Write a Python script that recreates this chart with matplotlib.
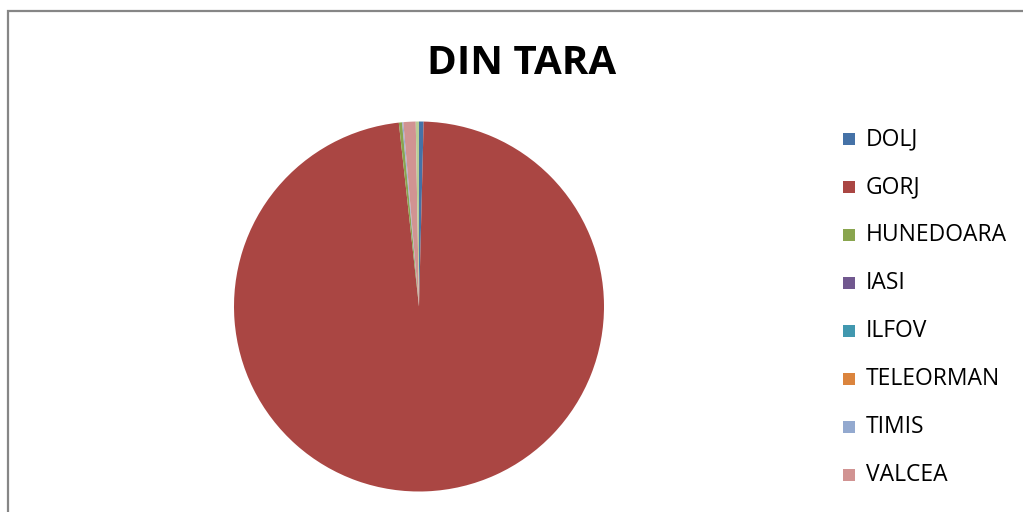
import matplotlib
matplotlib.use("Agg")
import matplotlib.pyplot as plt
from matplotlib.patches import Rectangle

categories = ["DOLJ", "GORJ", "HUNEDOARA", "IASI", "ILFOV", "TELEORMAN", "TIMIS", "VALCEA"]
values = [0.40, 97.75, 0.27, 0.01, 0.01, 0.01, 0.09, 1.07]
colors = ["#4572A7", "#AA4643", "#89A54E", "#71588F", "#4198AF", "#DB843D", "#93A9CF", "#D19392"]
# ninth slice whose legend entry is cut off below the chart
extra_value = 0.28
extra_color = "#B9CD96"
title = "DIN TARA"

W, H = 1023, 512
fig = plt.figure(figsize=(W / 100, H / 100), dpi=100)
fig.patch.set_facecolor("white")

fig.add_artist(Rectangle((8 / W, -0.1), 1.2, (H - 11) / H + 0.1, transform=fig.transFigure,
                         fill=False, edgecolor="#868686", linewidth=1.6))

cx, cy, r = 419, 306.5, 185
ax = fig.add_axes([(cx - r) / W, (H - cy - r) / H, 2 * r / W, 2 * r / H])
ax.pie(values + [extra_value], colors=colors + [extra_color], startangle=90,
       counterclock=False, radius=1.0, wedgeprops=dict(linewidth=0))
ax.set_xlim(-1, 1)
ax.set_ylim(-1, 1)
ax.set_aspect("auto")
ax.axis("off")

fig.text(522 / W, 1 - 64 / H, title, ha="center", va="center", fontsize=29,
         fontweight="bold", family="Open Sans")

y0 = 139
for i, (cat, col) in enumerate(zip(categories, colors)):
    y = y0 + i * 48
    fig.add_artist(Rectangle((843 / W, 1 - (y + 6) / H), 12 / W, 12 / H, transform=fig.transFigure,
                             facecolor=col, edgecolor="none"))
    fig.text(866 / W, 1 - y / H, cat, ha="left", va="center", fontsize=16.5, family="Open Sans")

fig.savefig("out.png", dpi=100)
